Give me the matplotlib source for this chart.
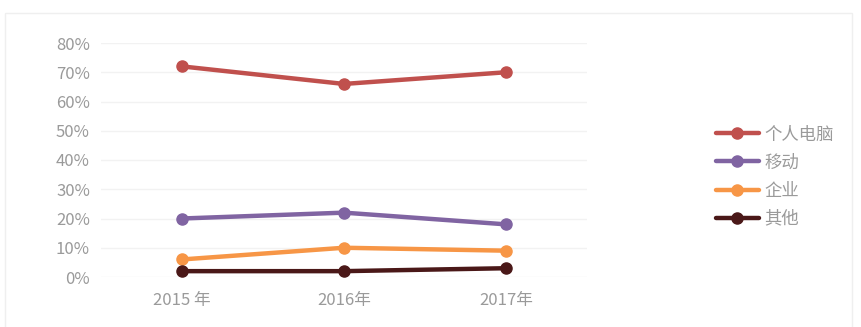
import matplotlib.pyplot as plt
from matplotlib.patches import Rectangle
from matplotlib.ticker import PercentFormatter

plt.rcParams['font.family'] = ['Noto Sans CJK SC', 'DejaVu Sans']

years = ['2015 年', '2016年', '2017年']
pc = [0.72, 0.66, 0.70]
mobile = [0.20, 0.22, 0.18]
enterprise = [0.06, 0.10, 0.09]
other = [0.02, 0.02, 0.03]

series = [
    ('个人电脑', pc, '#C0504D'),
    ('移动', mobile, '#8064A2'),
    ('企业', enterprise, '#F79646'),
    ('其他', other, '#4A1818'),
]

text_color = '#9A9A9A'

fig = plt.figure(figsize=(8.62, 3.27), dpi=100)
# light outer frame of the chart area
fig.patches.append(Rectangle((5 / 862, -0.01), 847 / 862, 1 - 13 / 327 + 0.01,
                             transform=fig.transFigure, fill=False,
                             edgecolor='#EFEFEF', linewidth=1))

ax = fig.add_axes([101 / 862, 50 / 327, 486 / 862, 234 / 327])

x = range(len(years))
for name, values, color in series:
    ax.plot(x, values, color=color, linewidth=3.2, marker='o', markersize=8,
            label=name, solid_capstyle='round')

ax.set_xlim(-0.5, len(years) - 0.5)
ax.set_ylim(0, 0.8)
ax.set_yticks([i / 10 for i in range(9)])
ax.yaxis.set_major_formatter(PercentFormatter(1.0, decimals=0))
ax.set_xticks(list(x))
ax.set_xticklabels(years)

ax.grid(axis='y', color='#F2F2F2', linewidth=1)
ax.set_axisbelow(True)
for spine in ax.spines.values():
    spine.set_visible(False)
ax.tick_params(length=0, colors=text_color, labelsize=12)
ax.tick_params(axis='x', pad=11)
ax.tick_params(axis='y', pad=8)

leg = fig.legend(loc='center left', bbox_to_anchor=(700 / 862, 0.46), frameon=False,
                 fontsize=12.5, handlelength=2.5, labelspacing=0.58, handletextpad=0.3)
for t in leg.get_texts():
    t.set_color(text_color)

fig.savefig('out.png', dpi=100)
